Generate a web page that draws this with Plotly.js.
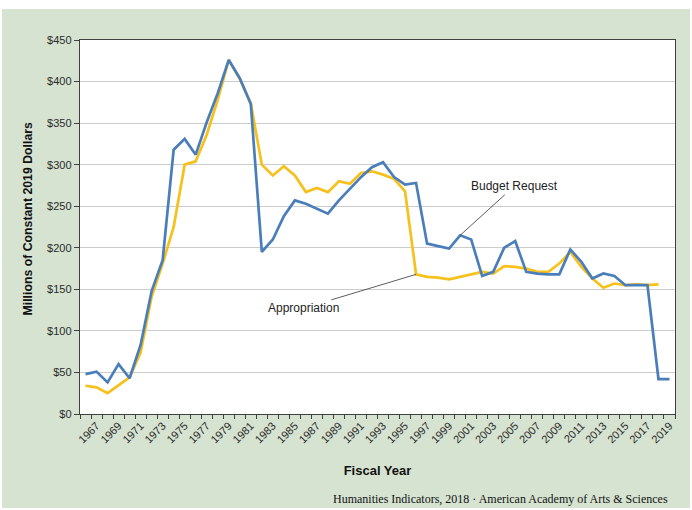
<!DOCTYPE html>
<html>
<head>
<meta charset="utf-8">
<script src="https://cdn.plot.ly/plotly-3.0.1.min.js"></script>
<style>
  html, body { margin: 0; padding: 0; background: #ffffff; }
  #frame { position: absolute; left: 2px; top: 9px; width: 688px; height: 499px; background: #d6e3d1; }
  #chart { position: absolute; left: 0; top: 0; width: 692px; height: 510px; }
</style>
</head>
<body>
<div id="frame"></div>
<div id="chart"></div>
<script>
// Fiscal years (categories)
const years = [1966,1967,1968,1969,1970,1971,1972,1973,1974,1975,
               1976,1977,1978,1979,1980,1981,1982,1983,1984,1985,
               1986,1987,1988,1989,1990,1991,1992,1993,1994,1995,
               1996,1997,1998,1999,2000,2001,2002,2003,2004,2005,
               2006,2007,2008,2009,2010,2011,2012,2013,2014,2015,
               2016,2017,2018,2019];

// Budget Request (millions of constant 2019 dollars)
const budgetRequest = [48,51,38,60,43,83,148,185,318,331,
                       312,351,386,426,404,373,195,210,238,257,
                       253,247,241,257,271,285,297,303,285,276,
                       278,205,202,199,215,210,166,171,200,208,
                       171,169,168,168,198,183,163,169,166,155,
                       155,155,42,42];

// Appropriation (millions of constant 2019 dollars), FY1966-FY2018
const appropriation = [34,32,25,34,44,74,141,181,225,300,
                       304,336,378,426,403,374,300,287,298,287,
                       267,272,267,280,277,290,292,288,283,268,
                       168,165,164,162,165,168,171,169,178,177,
                       175,171,171,181,195,177,163,152,157,155,
                       156,155,156];

// Tick labels on the x axis
const xTickVals = [1967,1969,1971,1973,1975,1977,1979,1981,1983,1985,
                   1987,1989,1991,1993,1995,1997,1999,2001,2003,2005,
                   2007,2009,2011,2013,2015,2017,2019];
const xTickText = xTickVals.map(String);

const yTickVals = [0,50,100,150,200,250,300,350,400,450];
const yTickText = ['$0','$50','$100','$150','$200','$250','$300','$350','$400','$450'];

const BLUE = '#4a7ebb';
const GOLD = '#f6c11a';

const traces = [
  { x: years.slice(0, appropriation.length), y: appropriation, type: 'scatter', mode: 'lines',
    name: 'Appropriation', line: { color: GOLD, width: 2.7 }, hoverinfo: 'x+y' },
  { x: years, y: budgetRequest, type: 'scatter', mode: 'lines',
    name: 'Budget Request', line: { color: BLUE, width: 2.7 }, hoverinfo: 'x+y' }
];

const iReq = years.indexOf(2000);
const iApp = years.indexOf(1996);

const layout = {
  width: 692, height: 510,
  margin: { l: 80, r: 17, t: 40, b: 96 },
  paper_bgcolor: 'rgba(0,0,0,0)',
  plot_bgcolor: '#ffffff',
  showlegend: false,
  font: { family: '"Liberation Sans", Arial, sans-serif', color: '#222222' },
  xaxis: {
    type: 'linear',
    range: [1965.5, 2019.5],
    tickmode: 'array', tickvals: xTickVals, ticktext: xTickText,
    tickangle: -45, ticks: '', tickfont: { size: 11, color: '#2a2a2a' },
    minor: { tick0: 1965.5, dtick: 1, ticks: 'outside', ticklen: 4, tickcolor: '#404040', tickwidth: 1, showgrid: false },
    showgrid: false, zeroline: false,
    showline: true, linecolor: '#404040', linewidth: 1.2, mirror: true,
    title: { text: '<b>Fiscal Year</b>', font: { size: 13, color: '#111' }, standoff: 21 }
  },
  yaxis: {
    range: [0, 450],
    tickmode: 'array', tickvals: yTickVals, ticktext: yTickText,
    ticks: 'outside', ticklen: 5, tickcolor: '#404040',
    tickfont: { size: 11, color: '#2a2a2a' },
    showgrid: true, gridcolor: '#cccccc', gridwidth: 1, zeroline: false,
    showline: true, linecolor: '#404040', linewidth: 1.2, mirror: true
  },
  annotations: [
    { x: -0.0882, y: 0.5214, xref: 'paper', yref: 'paper', xanchor: 'center', yanchor: 'middle',
      textangle: -90, showarrow: false,
      text: '<b>Millions of Constant 2019 Dollars</b>', font: { size: 12.3, color: '#111' } },
    { x: years[iReq], y: budgetRequest[iReq], xref: 'x', yref: 'y',
      text: 'Budget Request', showarrow: true, arrowhead: 0, arrowwidth: 0.8, arrowcolor: '#333',
      ax: 54, ay: -49, standoff: 0, font: { size: 12, color: '#222' } },
    { x: years[iApp], y: appropriation[iApp], xref: 'x', yref: 'y',
      text: 'Appropriation', showarrow: true, arrowhead: 0, arrowwidth: 0.8, arrowcolor: '#333',
      ax: -113, ay: 34, standoff: 0, font: { size: 12, color: '#222' } },
    { x: 0.992, y: -0.227, xref: 'paper', yref: 'paper', xanchor: 'right', yanchor: 'middle',
      text: 'Humanities Indicators, 2018 · American Academy of Arts &amp; Sciences', showarrow: false,
      font: { family: '"Liberation Serif", "Times New Roman", serif', size: 12, color: '#111' } }
  ]
};

Plotly.newPlot('chart', traces, layout, { displayModeBar: false, staticPlot: true });
</script>
</body>
</html>
